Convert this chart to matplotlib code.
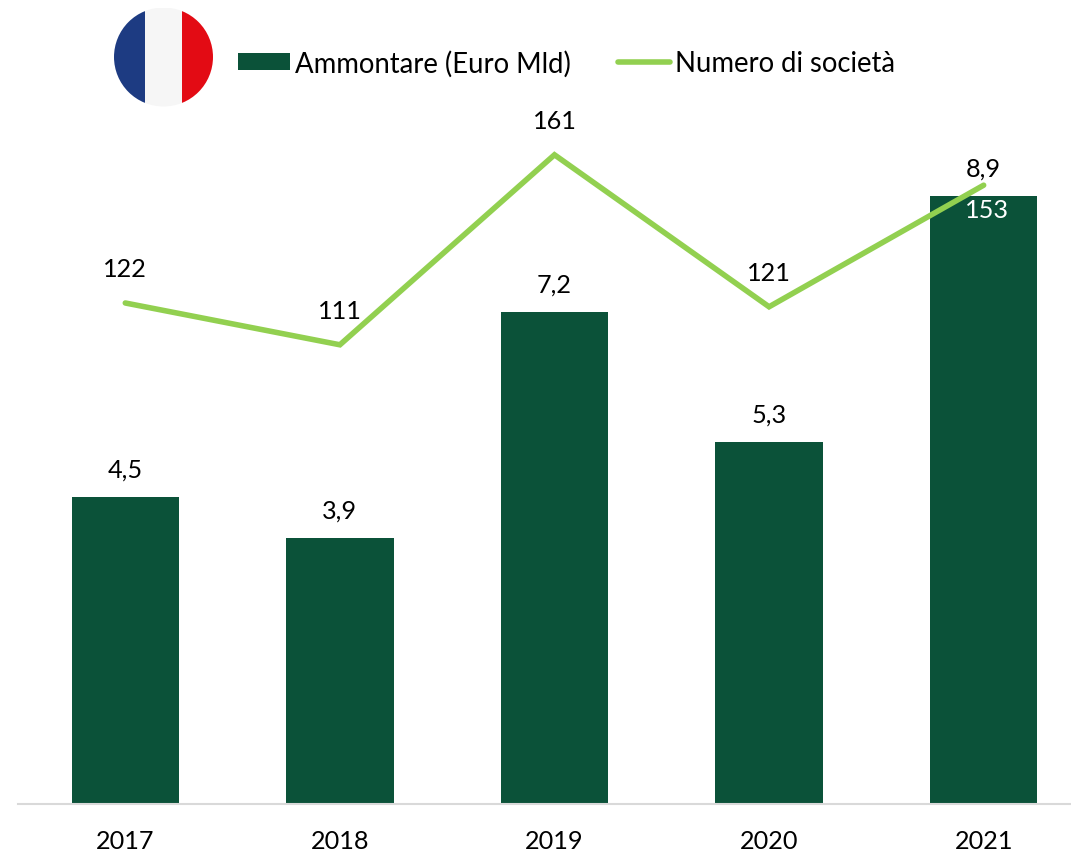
import matplotlib
matplotlib.use("Agg")
import matplotlib.pyplot as plt
from matplotlib.patches import Circle, Rectangle

plt.rcParams['font.family'] = ['Lato', 'DejaVu Sans']

years = ['2017', '2018', '2019', '2020', '2021']
amount = [4.5, 3.9, 7.2, 5.3, 8.9]
companies = [122, 111, 161, 121, 153]
amount_labels = ['4,5', '3,9', '7,2', '5,3', '8,9']
company_offsets_px = [(0, 34), (0, 34), (0, 34), (0, 34), (3, -24)]

W, H = 1071, 854
DARK, LIGHT = '#0B5239', '#92D050'
FS = 18.2
LEG_FS = 19.8
PX = 0.72

fig = plt.figure(figsize=(W / 100, H / 100), dpi=100, facecolor='white')
ax = fig.add_axes([18 / W, (H - 805) / H, (W - 18) / W, 805 / H])
xs = list(range(len(years)))
bars = ax.bar(xs, amount, width=0.5, color=DARK, label='Ammontare (Euro Mld)')
ax.set_xlim(-0.5, 4.407)
ax.set_ylim(0, 11.786)
ax.set_yticks([])
ax.set_xticks(xs, years, fontsize=FS, color='black')
ax.tick_params(axis='x', length=0, pad=18)
for s in ['top', 'left', 'right']:
    ax.spines[s].set_visible(False)
ax.spines['bottom'].set_color('#D9D9D9')
ax.spines['bottom'].set_linewidth(1.5)

for x, v, t in zip(xs, amount, amount_labels):
    ax.annotate(t, (x, v), xytext=(0, 28 * PX), textcoords='offset points',
                ha='center', va='center', fontsize=FS, color='black')

ax2 = ax.twinx()
ax2.set_ylim(-9.85, 202.0)
ax2.set_yticks([])
for s in ax2.spines.values():
    s.set_visible(False)
ln, = ax2.plot(xs, companies, color=LIGHT, lw=4, solid_capstyle='round',
               solid_joinstyle='miter', label='Numero di società')
for x, v, (ox, oy) in zip(xs, companies, company_offsets_px):
    ax2.annotate(str(v), (x, v), xytext=(ox * PX, oy * PX), textcoords='offset points',
                 ha='center', va='center', fontsize=FS,
                 color='white' if oy < 0 else 'black')

fig.legend(handles=[bars, ln], loc='center left',
           bbox_to_anchor=(238 / W, (H - 64) / H), bbox_transform=fig.transFigure,
           ncol=2, frameon=False, fontsize=LEG_FS, borderpad=0, borderaxespad=0,
           handlelength=1.88, handleheight=0.58, handletextpad=0.18, columnspacing=1.74)

# French flag badge
flag = fig.add_axes([114 / W, (H - 107.5) / H, 99 / W, 99 / H])
flag.set_xlim(0, 99)
flag.set_ylim(0, 99)
flag.axis('off')
clip = Circle((49.5, 49.5), 49.5, transform=flag.transData)
for x0, w, c in [(0, 31, '#1D3B82'), (31, 37, '#F6F6F6'), (68, 31, '#E30B14')]:
    r = Rectangle((x0, 0), w, 99, color=c, lw=0)
    flag.add_patch(r)
    r.set_clip_path(clip)

fig.savefig('out.png', dpi=100)
